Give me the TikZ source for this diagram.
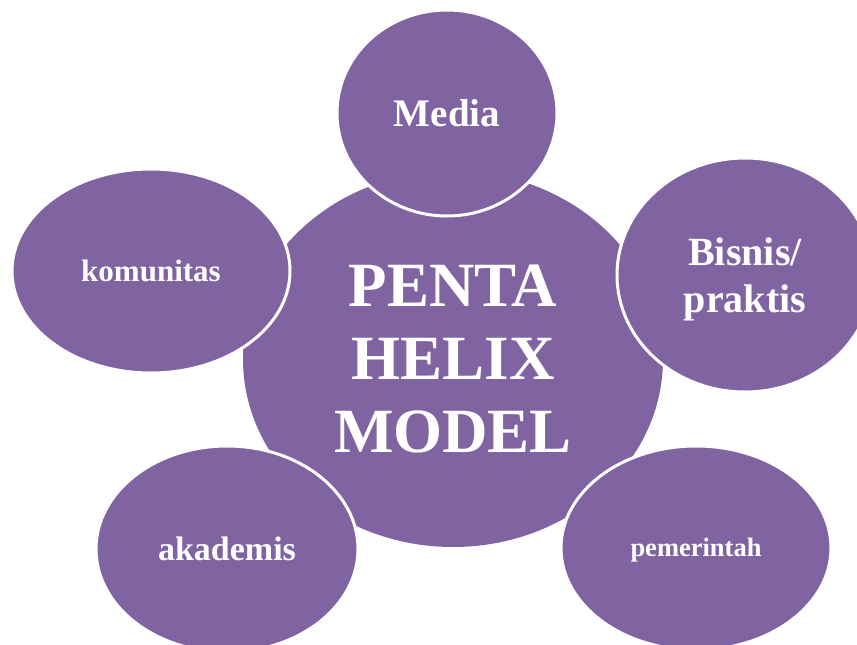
\documentclass[tikz,border=0pt]{standalone}
\usepackage{fontspec}
\setmainfont{Liberation Serif}
\usetikzlibrary{shapes.geometric}
\definecolor{helixpurple}{HTML}{8064A2}
\tikzset{
  blob/.style={ellipse, fill=helixpurple, draw=white, line width=3pt, inner sep=0pt,
    text=white, font=\bfseries, align=center},
  blobtext/.style={text=white, align=center, inner sep=0pt},
}
\begin{document}
\begin{tikzpicture}[x=1pt,y=-1pt]
\useasboundingbox (0,0) rectangle (857,645);
\fill[white] (0,0) rectangle (857,645);
\node[blob, draw=none, minimum width=420pt, minimum height=376pt,
  font=\bfseries\fontsize{63}{73}\selectfont] (center) at (453,359) {PENTA\\HELIX\\MODEL};
\node[blob, minimum width=220pt, minimum height=206pt,
  font=\bfseries\fontsize{39}{45}\selectfont] (media) at (447,113) {Media};
\node[blob, minimum width=278pt, minimum height=204pt,
  font=\bfseries\fontsize{31}{36}\selectfont] (komunitas) at (151,271) {komunitas};
\node[blob, minimum width=256pt, minimum height=234pt] (bisnis) at (745,275) {};
\node[blobtext, font=\bfseries\fontsize{40}{47}\selectfont] (bisnistext) at (745,279) {Bisnis/\\praktis};
\node[blob, minimum width=262pt, minimum height=206pt,
  font=\bfseries\fontsize{34}{40}\selectfont] (akademis) at (227,549) {akademis};
\node[blob, minimum width=270pt, minimum height=204pt] (pemerintah) at (696,548) {};
\node[blobtext, font=\bfseries\fontsize{26.5}{31}\selectfont] (pemerintahtext) at (696,550) {pemerintah};
\end{tikzpicture}
\end{document}
